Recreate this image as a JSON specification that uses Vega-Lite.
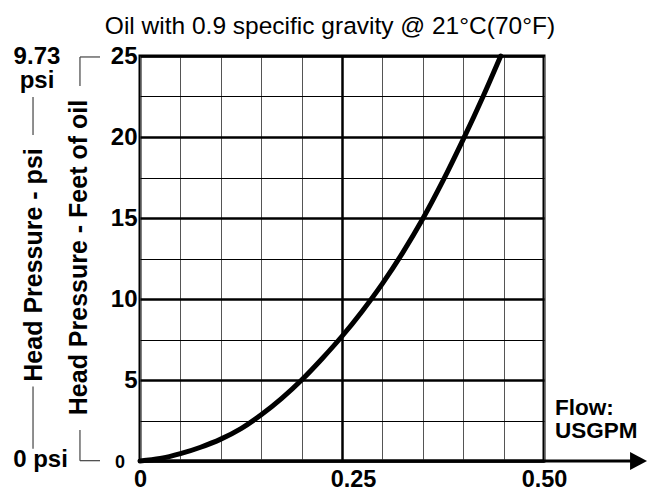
{
  "$schema": "https://vega.github.io/schema/vega-lite/v6.json",
  "autosize": {"type": "none"},
  "width": 404,
  "height": 405,
  "padding": {"left": 140, "top": 56, "right": 116, "bottom": 28},
  "background": "#ffffff",
  "config": {
    "font": "Liberation Sans",
    "view": {"stroke": "#000000", "strokeWidth": 3},
    "text": {"font": "Liberation Sans", "color": "#000000"}
  },
  "layer": [
    {
      "data": {"values": [
        {"flow": 0, "head": 0},
        {"flow": 0.025, "head": 0.15},
        {"flow": 0.05, "head": 0.45},
        {"flow": 0.075, "head": 0.85},
        {"flow": 0.1, "head": 1.35},
        {"flow": 0.125, "head": 2.0},
        {"flow": 0.15, "head": 2.85},
        {"flow": 0.175, "head": 3.85},
        {"flow": 0.2, "head": 5.0},
        {"flow": 0.225, "head": 6.3},
        {"flow": 0.25, "head": 7.7},
        {"flow": 0.275, "head": 9.25},
        {"flow": 0.3, "head": 10.95},
        {"flow": 0.325, "head": 12.85},
        {"flow": 0.35, "head": 14.95},
        {"flow": 0.375, "head": 17.3},
        {"flow": 0.4, "head": 19.85},
        {"flow": 0.425, "head": 22.55},
        {"flow": 0.4464, "head": 25}
      ]},
      "mark": {"type": "line", "color": "#000000", "strokeWidth": 5, "interpolate": "monotone", "strokeCap": "round"},
      "encoding": {
        "x": {
          "field": "flow", "type": "quantitative",
          "scale": {"domain": [0, 0.5], "nice": false, "zero": false},
          "axis": {
            "values": [0, 0.05, 0.1, 0.15, 0.2, 0.25, 0.3, 0.35, 0.4, 0.45, 0.5],
            "title": null, "domain": false, "ticks": false, "grid": true,
            "gridColor": {"condition": {"test": "datum.value == 0.25", "value": "#000000"}, "value": "#555555"},
            "gridWidth": {"condition": {"test": "datum.value == 0.25", "value": 2.5}, "value": 1},
            "gridOpacity": 1,
            "labelExpr": "datum.value == 0 ? '0' : datum.value == 0.25 ? '0.25' : datum.value == 0.5 ? '0.50' : ''",
            "labelFont": "Liberation Sans", "labelFontSize": 23.5, "labelFontWeight": "bold", "labelColor": "#000000",
            "labelPadding": 6, "labelFlush": false, "labelOverlap": false, "labelBound": false,
            "labelOffset": {"condition": {"test": "datum.value == 0.25", "value": 11}, "value": 0}
          }
        },
        "y": {
          "field": "head", "type": "quantitative",
          "scale": {"domain": [0, 25], "nice": false, "zero": false},
          "axis": {
            "values": [0, 2.5, 5, 7.5, 10, 12.5, 15, 17.5, 20, 22.5, 25],
            "title": null, "domain": false, "ticks": false, "grid": true,
            "gridColor": "#000000", "gridOpacity": 1,
            "gridWidth": {"condition": {"test": "datum.value % 5 == 0", "value": 2.3}, "value": 1.2},
            "labelExpr": "datum.value > 0 && datum.value % 5 == 0 ? datum.label : ''",
            "labelFont": "Liberation Sans", "labelFontSize": 24, "labelFontWeight": "bold", "labelColor": "#000000",
            "labelPadding": 3, "labelOverlap": false, "labelBound": false, "labelFlush": false
          }
        }
      }
    },
    {
      "data": {"values": [{}]},
      "mark": {"type": "rule", "color": "#000000", "strokeWidth": 3},
      "encoding": {"x": {"datum": 0}, "x2": {"datum": 0.615}, "y": {"datum": 0}}
    },
    {
      "data": {"values": [{}]},
      "mark": {"type": "point", "shape": "M -1 -1.05 L 1 0 L -1 1.05 Z", "filled": true, "color": "#000000", "opacity": 1, "size": 289},
      "encoding": {"x": {"datum": 0.617}, "y": {"datum": 0}}
    },
    {
      "data": {"values": [{}]},
      "mark": {"type": "rule", "color": "#444444", "strokeWidth": 1.2},
      "encoding": {"x": {"datum": -0.0743}, "y": {"datum": 24.94}, "y2": {"datum": 23.15}}
    },
    {
      "data": {"values": [{}]},
      "mark": {"type": "rule", "color": "#444444", "strokeWidth": 1.2},
      "encoding": {"x": {"datum": -0.0743}, "x2": {"datum": -0.0495}, "y": {"datum": 24.94}}
    },
    {
      "data": {"values": [{}]},
      "mark": {"type": "rule", "color": "#444444", "strokeWidth": 1.2},
      "encoding": {"x": {"datum": -0.0743}, "y": {"datum": 0.02}, "y2": {"datum": 1.91}}
    },
    {
      "data": {"values": [{}]},
      "mark": {"type": "rule", "color": "#444444", "strokeWidth": 1.2},
      "encoding": {"x": {"datum": -0.0743}, "x2": {"datum": -0.0495}, "y": {"datum": 0.02}}
    },
    {
      "data": {"values": [{}]},
      "mark": {"type": "rule", "color": "#444444", "strokeWidth": 1.2},
      "encoding": {"x": {"datum": -0.1324}, "y": {"datum": 22.47}, "y2": {"datum": 20.12}}
    },
    {
      "data": {"values": [{}]},
      "mark": {"type": "rule", "color": "#444444", "strokeWidth": 1.2},
      "encoding": {"x": {"datum": -0.1324}, "y": {"datum": 4.6}, "y2": {"datum": 0.75}}
    },
    {
      "data": {"values": [{}]},
      "mark": {"type": "text", "text": "Oil with 0.9 specific gravity @ 21°C(70°F)", "fontSize": 24.5, "align": "center", "baseline": "alphabetic"},
      "encoding": {"x": {"datum": 0.2351}, "y": {"datum": 26.36}}
    },
    {
      "data": {"values": [{}]},
      "mark": {"type": "text", "text": "9.73", "fontSize": 24, "fontWeight": "bold", "align": "center", "baseline": "alphabetic"},
      "encoding": {"x": {"datum": -0.1275}, "y": {"datum": 24.51}}
    },
    {
      "data": {"values": [{}]},
      "mark": {"type": "text", "text": "psi", "fontSize": 24, "fontWeight": "bold", "align": "center", "baseline": "alphabetic"},
      "encoding": {"x": {"datum": -0.1275}, "y": {"datum": 23.0}}
    },
    {
      "data": {"values": [{}]},
      "mark": {"type": "text", "text": "0 psi", "fontSize": 24, "fontWeight": "bold", "align": "center", "baseline": "alphabetic"},
      "encoding": {"x": {"datum": -0.1231}, "y": {"datum": -0.37}}
    },
    {
      "data": {"values": [{}]},
      "mark": {"type": "text", "text": "0", "fontSize": 18, "fontWeight": "bold", "align": "center", "baseline": "middle"},
      "encoding": {"x": {"datum": -0.0248}, "y": {"datum": -0.1}}
    },
    {
      "data": {"values": [{}]},
      "mark": {"type": "text", "text": "Head Pressure - psi", "fontSize": 25, "fontWeight": "bold", "align": "center", "baseline": "middle", "angle": 270},
      "encoding": {"x": {"datum": -0.1312}, "y": {"datum": 12.1}}
    },
    {
      "data": {"values": [{}]},
      "mark": {"type": "text", "text": "Head Pressure - Feet of oil", "fontSize": 25, "fontWeight": "bold", "align": "center", "baseline": "middle", "angle": 270},
      "encoding": {"x": {"datum": -0.0755}, "y": {"datum": 12.56}}
    },
    {
      "data": {"values": [{}]},
      "mark": {"type": "text", "text": "Flow:", "fontSize": 22.5, "fontWeight": "bold", "align": "left", "baseline": "alphabetic"},
      "encoding": {"x": {"datum": 0.5136}, "y": {"datum": 2.84}}
    },
    {
      "data": {"values": [{}]},
      "mark": {"type": "text", "text": "USGPM", "fontSize": 22.5, "fontWeight": "bold", "align": "left", "baseline": "alphabetic"},
      "encoding": {"x": {"datum": 0.5136}, "y": {"datum": 1.42}}
    }
  ]
}
